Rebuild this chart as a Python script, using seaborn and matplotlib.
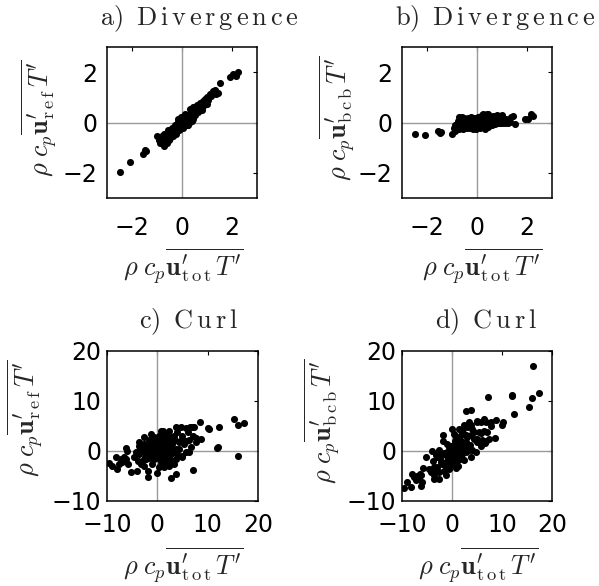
import matplotlib
matplotlib.use("Agg")
import matplotlib.pyplot as plt
import seaborn as sns
import pandas as pd

# Divergent part: total flux vs. reference / bcb flux
div_tot = [-2.47, -2.08, -1.55, -1.48, -1.45, -1.00, 2.24, 2.15, 1.90, 2.05,
           1.51, 1.44, 1.37, 1.30, 1.22, 1.17, 1.12, 1.05, 1.00, 0.95,
           0.92, 0.88, 0.85, 0.80, 0.77, 0.72, 0.70, 0.65, 0.62, 0.60,
           0.55, 0.52, 0.50, 0.47, 0.45, 0.42, 0.40, 0.38, 0.35, 0.32,
           0.30, 0.28, 0.25, 0.22, 0.20, 0.18, 0.15, 0.12, 0.10, 0.08,
           0.05, 0.03, 0.00, -0.02, -0.05, -0.07, -0.10, -0.12, -0.15, -0.17,
           -0.20, -0.22, -0.25, -0.27, -0.30, -0.32, -0.35, -0.37, -0.40, -0.42,
           -0.45, -0.47, -0.50, -0.52, -0.55, -0.57, -0.60, -0.62, -0.65, -0.67,
           -0.70, -0.72, -0.75, -0.77, -0.80, -0.82, -0.85, -0.88, -0.90, -0.93,
           0.10, -0.10, -0.30, 0.20, 0.35, -0.50, -0.65, 0.00, 0.58, -0.20,
           0.65, 0.25, -0.72, -0.60, 0.78, 1.00, 0.45, -0.15]
div_ref = [-1.97, -1.57, -1.25, -1.08, -1.15, -0.52, 2.00, 1.85, 1.80, 1.92,
           1.58, 1.18, 1.15, 1.30, 1.25, 1.05, 1.15, 0.88, 1.02, 0.80,
           0.95, 0.70, 0.85, 0.62, 0.72, 0.78, 0.55, 0.62, 0.45, 0.68,
           0.40, 0.55, 0.30, 0.45, 0.12, 0.50, 0.25, 0.05, 0.38, 0.20,
           0.55, 0.00, 0.30, 0.10, -0.10, 0.22, 0.05, 0.35, -0.08, 0.15,
           0.00, -0.20, 0.10, -0.05, 0.20, -0.25, -0.05, -0.30, -0.12, 0.02,
           -0.32, -0.15, -0.45, -0.25, -0.08, -0.40, -0.28, -0.55, -0.35, -0.20,
           -0.50, -0.62, -0.40, -0.70, -0.48, -0.30, -0.62, -0.75, -0.52, -0.80,
           -0.60, -0.45, -0.82, -0.70, -0.55, -0.78, -0.65, -0.80, -0.58, -0.70,
           0.25, -0.18, -0.20, 0.12, 0.20, -0.55, -0.68, -0.12, 0.50, -0.05,
           0.40, -0.08, -0.92, -0.82, 0.50, 0.72, 0.62, 0.12]
div_bcb = [-0.44, -0.48, -0.33, -0.42, -0.36, -0.45, 0.27, 0.32, 0.12, 0.15,
           -0.05, 0.25, 0.22, 0.02, -0.02, 0.13, -0.03, 0.18, -0.02, 0.15,
           -0.03, 0.20, 0.00, 0.18, 0.05, -0.06, 0.15, 0.04, 0.17, -0.08,
           0.15, -0.03, 0.22, 0.02, 0.33, -0.08, 0.15, 0.33, -0.03, 0.12,
           -0.25, 0.28, -0.05, 0.12, 0.30, -0.04, 0.10, -0.22, 0.18, -0.07,
           0.05, 0.23, -0.10, 0.03, -0.25, 0.18, -0.05, 0.18, -0.03, -0.19,
           0.12, -0.07, 0.20, -0.02, -0.22, 0.08, -0.07, 0.18, -0.05, -0.22,
           0.05, 0.15, -0.10, 0.18, -0.07, -0.27, 0.02, 0.13, -0.13, 0.13,
           -0.10, -0.27, 0.07, -0.07, -0.25, -0.04, -0.20, -0.08, -0.32, -0.23,
           -0.15, 0.08, -0.10, 0.08, 0.15, 0.05, 0.03, 0.12, 0.08, -0.15,
           0.25, 0.33, 0.22, 0.22, 0.28, 0.28, -0.17, -0.27]

# Rotational part: total flux vs. reference / bcb flux
curl_tot = [15.3, 16.0, 17.3, 16.1, 12.0, 11.9, 12.3, 10.0, 10.2, 8.5,
            7.3, 6.8, 7.7, 8.7, 7.1, 3.7, 2.3, 0.7, -2.7, -3.7,
            -6.0, -6.7, -8.3, -7.7, -9.7, -9.0, -8.1, -5.3, -4.0, -3.3,
            -1.8, -1.8, 0.0, 2.7, 3.7, 2.3, -5.8, -2.7, -3.8, -3.3,
            -6.5, -7.2, 4.7, 5.7, 6.5, 6.0, 4.9, 5.3, 6.7, 5.7,
            4.9, 3.7, 3.0, 4.3, 7.7, 3.3, 2.0, 1.3, 0.3, -0.3,
            -1.3, -1.0, -2.0, -3.0, -3.7, -2.5, -1.3, -0.3, 0.7, 1.3,
            1.7, 0.7, -0.3, -1.0, 0.3, 1.3, 2.7, 2.3, 3.0, 3.7,
            2.0, 1.0, 0.3, -0.7, -1.7, -2.7, -3.3, -4.3, -4.7, -6.3,
            -7.1, 0.0, -0.7, 0.3, 1.1, 1.0, 2.7, 4.0, 5.0, 7.0,
            6.3, 5.7, 4.3, 3.0, 4.0, 5.0, 6.3, 3.3, -1.7, -3.0,
            -0.7, 1.0, 2.0, -2.3, -1.3, 0.0, 0.7, 1.7, 2.3, 1.3,
            0.3, -1.0, -3.7, -6.3, 0.5, 1.5, -0.5, 2.5, 1.8, -1.5,
            0.9, 1.2, -0.2, 2.8, 0.2, -0.9, 1.6, 3.5, -2.2, 0.6]
curl_ref = [6.5, 5.3, 5.7, -1.0, 0.9, 0.6, 4.9, 4.7, 4.4, 5.8,
            4.8, 4.8, 2.7, 2.5, -3.7, 4.8, 4.1, 4.1, 2.9, 1.8,
            0.1, -1.1, -1.1, -2.5, -2.4, -2.9, -3.5, -4.2, -4.0, -2.5,
            -3.9, -5.1, -4.4, -5.3, -4.5, -2.9, -2.5, -2.9, -1.9, 0.1,
            -2.0, -1.5, 4.9, 4.7, 4.9, 3.8, 2.5, 1.5, 0.8, -0.2,
            -1.1, -1.5, -1.9, 0.5, 1.8, 3.1, 2.5, 1.8, 3.1, 2.1,
            3.5, 1.5, 0.5, 0.1, -0.5, -1.1, -0.5, 0.8, 0.1, -0.5,
            -1.5, -2.2, -1.3, -2.5, -3.2, -3.2, -0.5, 0.8, 1.5, 0.5,
            0.1, 1.1, 2.1, 2.8, 2.3, 1.5, 0.5, -0.2, -1.2, -1.5,
            -2.2, -0.5, 0.1, 1.1, 4.1, 2.9, 2.8, 3.8, 3.1, 3.1,
            2.3, 2.1, 1.8, 0.1, -0.5, -0.9, -0.2, -2.5, -1.3, -1.9,
            -1.5, -1.2, -2.2, -0.2, 0.8, 1.5, 0.8, 0.8, -1.2, 0.1,
            -0.9, -0.9, 1.1, 0.6, 0.5, 1.2, -0.2, 1.9, -0.2, 1.2,
            -0.5, 2.4, 1.8, 0.9, 0.3, 0.5, 3.2, 2.2, -1.6, -1.4]
curl_bcb = [8.8, 10.7, 11.6, 17.1, 11.1, 11.3, 7.4, 5.3, 5.8, 2.7,
            2.5, 2.0, 5.0, 6.2, 10.8, -1.1, -1.8, -3.4, -5.6, -5.5,
            -6.1, -5.6, -7.2, -5.2, -7.3, -6.1, -4.6, -1.1, 0.0, -0.8,
            2.1, 3.3, 4.4, 8.0, 8.2, 5.2, -3.3, 0.2, -1.9, -3.4,
            -4.5, -5.7, -0.2, 1.0, 1.6, 2.2, 2.4, 3.8, 5.9, 5.9,
            6.0, 5.2, 4.9, 3.8, 5.9, 0.2, -0.5, -0.5, -2.8, -2.4,
            -4.8, -2.5, -2.5, -3.1, -3.2, -1.4, -0.8, -1.1, 0.6, 1.8,
            3.2, 2.9, 1.0, 1.5, 3.5, 4.5, 3.2, 1.5, 1.5, 3.2,
            1.9, -0.1, -1.8, -3.5, -4.0, -4.2, -3.8, -4.1, -3.5, -4.8,
            -4.9, 0.5, -0.8, -0.8, -3.0, -1.9, -0.1, 0.2, 1.9, 3.9,
            4.0, 3.6, 2.5, 2.9, 4.5, 5.9, 6.5, 5.8, -0.4, -1.1,
            0.8, 2.2, 4.2, -2.1, -2.1, -1.5, -0.1, 0.9, 3.5, 1.2,
            1.2, -0.1, -4.8, -6.9, 0.0, 0.3, -0.3, 0.6, 2.0, -2.7,
            1.4, -1.2, -2.0, 1.9, -0.1, -1.4, -1.6, 1.3, -0.6, 2.0]

titles = [r"$\mathrm{a)\;\;D\,i\,v\,e\,r\,g\,e\,n\,c\,e}$",
          r"$\mathrm{b)\;\;D\,i\,v\,e\,r\,g\,e\,n\,c\,e}$",
          r"$\mathrm{c)\;\;C\,u\,r\,l}$",
          r"$\mathrm{d)\;\;C\,u\,r\,l}$"]
xlab = r"$\rho\;c_p\overline{\mathbf{u}^{\prime}_{\mathrm{t\,o\,t}}\,T^{\prime}}$"
ylab_ref = r"$\rho\;c_p\overline{\mathbf{u}^{\prime}_{\mathrm{r\,e\,f}}\,T^{\prime}}$"
ylab_bcb = r"$\rho\;c_p\overline{\mathbf{u}^{\prime}_{\mathrm{b\,c\,b}}\,T^{\prime}}$"

sns.set_theme(style="white")
plt.rcParams["font.family"] = ["DejaVu Sans"]
plt.rcParams["mathtext.fontset"] = "cm"

fig = plt.figure(figsize=(5.99, 5.86), dpi=100)
W, H = 599.0, 586.0

def box(l, t, r, b):
    return [l / W, 1 - b / H, (r - l) / W, (b - t) / H]

panels = [
    dict(rect=box(107, 47, 257, 198), x=div_tot, y=div_ref, ylab=ylab_ref,
         lim=(-3, 3), ticks=[-2, 0, 2], title_xy=(0.613, 1.146),
         xl=(0.507, -0.455), yl=(-0.447, 0.53), xpad=13, ypad=7),
    dict(rect=box(402, 47, 552, 198), x=div_tot, y=div_bcb, ylab=ylab_bcb,
         lim=(-3, 3), ticks=[-2, 0, 2], title_xy=(0.62, 1.146),
         xl=(0.533, -0.455), yl=(-0.427, 0.53), xpad=13, ypad=7),
    dict(rect=box(107, 351, 258, 501), x=curl_tot, y=curl_ref, ylab=ylab_ref,
         lim=(-10, 20), ticks=[-10, 0, 10, 20], title_xy=(0.543, 1.153),
         xl=(0.503, -0.43), yl=(-0.536, 0.553), xpad=9, ypad=4),
    dict(rect=box(402, 351, 552, 501), x=curl_tot, y=curl_bcb, ylab=ylab_bcb,
         lim=(-10, 20), ticks=[-10, 0, 10, 20], title_xy=(0.56, 1.153),
         xl=(0.507, -0.43), yl=(-0.527, 0.533), xpad=9, ypad=4),
]

for p, title in zip(panels, titles):
    ax = fig.add_axes(p["rect"])
    ax.axvline(0, color="#9a9a9a", lw=1.0, zorder=1)
    ax.axhline(0, color="#9a9a9a", lw=1.0, zorder=1)
    df = pd.DataFrame({"x": p["x"], "y": p["y"]})
    sns.scatterplot(data=df, x="x", y="y", ax=ax, color="black", s=26,
                    linewidth=0, zorder=3)
    ax.set_xlim(*p["lim"])
    ax.set_ylim(*p["lim"])
    ax.set_xticks(p["ticks"])
    ax.set_yticks(p["ticks"])
    ax.set_xticklabels([str(t).replace("-", "\u2212") for t in p["ticks"]])
    ax.set_yticklabels([str(t).replace("-", "\u2212") for t in p["ticks"]])
    ax.tick_params(axis="both", direction="in", length=3, width=0.8,
                   colors="black", labelsize=17, top=True, right=True)
    ax.tick_params(axis="x", pad=p["xpad"])
    ax.tick_params(axis="y", pad=p["ypad"])
    for sp in ax.spines.values():
        sp.set_visible(True)
        sp.set_color("black")
        sp.set_linewidth(1.1)
    ax.set_xlabel(xlab, fontsize=19, va="center", ha="center")
    ax.set_ylabel(p["ylab"], fontsize=19, va="center", ha="center")
    ax.xaxis.set_label_coords(*p["xl"])
    ax.yaxis.set_label_coords(*p["yl"])
    ax.text(p["title_xy"][0], p["title_xy"][1], title, transform=ax.transAxes,
            ha="center", va="baseline", fontsize=19)

fig.savefig("out.png", dpi=100)
